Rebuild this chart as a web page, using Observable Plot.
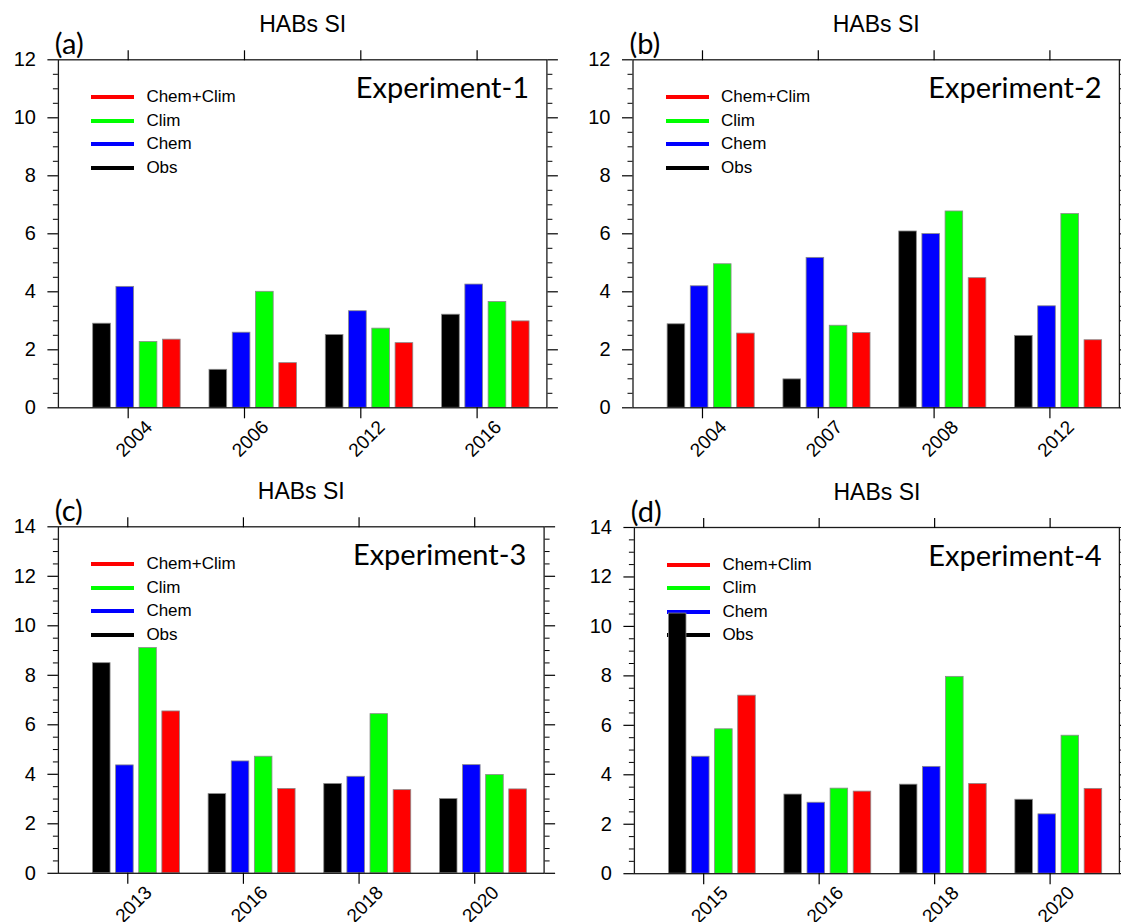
<!DOCTYPE html>
<html>
<head>
<meta charset="utf-8">
<script src="https://cdn.jsdelivr.net/npm/d3@7"></script>
<script src="https://cdn.jsdelivr.net/npm/@observablehq/plot@0.6"></script>
<style>
  html, body { margin: 0; padding: 0; background: #fff; }
  #root { position: relative; width: 1121px; height: 922px; overflow: hidden; background: #fff; }
  .panel { position: absolute; }
  .panel svg { overflow: visible; display: block; }
  .legend { position: absolute; z-index: 0; font-family: "Liberation Sans", Arial, Helvetica, sans-serif; font-size: 17px; color: #000; }
  .legend .sw { position: absolute; height: 4px; }
  .legend .lb { position: absolute; white-space: nowrap; line-height: 1; }
  .plotwrap { position: absolute; left: 0; top: 0; z-index: 1; }
</style>
</head>
<body>
<div id="root"></div>
<script>
// ---------------- data ----------------
const series = ["Obs", "Chem", "Clim", "Chem+Clim"];
const seriesColors = ["#000000", "#0000ff", "#00ff00", "#ff0000"];
const legendOrder = ["Chem+Clim", "Clim", "Chem", "Obs"];
const titleText = "HABs SI";
const panelLabels = ["(a)", "(b)", "(c)", "(d)"];
const experimentNames = ["Experiment-1", "Experiment-2", "Experiment-3", "Experiment-4"];
const yMaxes = [12, 12, 14, 14];

const years1 = ["2004", "2006", "2012", "2016"];
const obs1 = [2.90, 1.31, 2.51, 3.21];
const chem1 = [4.17, 2.59, 3.33, 4.25];
const clim1 = [2.27, 4.00, 2.73, 3.65];
const chemClim1 = [2.35, 1.54, 2.23, 2.98];

const years2 = ["2004", "2007", "2008", "2012"];
const obs2 = [2.88, 0.98, 6.08, 2.48];
const chem2 = [4.19, 5.17, 5.99, 3.50];
const clim2 = [4.95, 2.83, 6.77, 6.68];
const chemClim2 = [2.56, 2.58, 4.47, 2.33];

const years3 = ["2013", "2016", "2018", "2020"];
const obs3 = [8.49, 3.20, 3.61, 3.00];
const chem3 = [4.36, 4.52, 3.90, 4.37];
const clim3 = [9.10, 4.71, 6.43, 3.97];
const chemClim3 = [6.54, 3.41, 3.36, 3.39];

const years4 = ["2015", "2016", "2018", "2020"];
const obs4 = [10.52, 3.20, 3.60, 2.99];
const chem4 = [4.73, 2.87, 4.32, 2.40];
const clim4 = [5.84, 3.44, 7.96, 5.58];
const chemClim4 = [7.20, 3.32, 3.63, 3.43];

const panelYears = [years1, years2, years3, years4];
const panelValues = [
  [obs1, chem1, clim1, chemClim1],
  [obs2, chem2, clim2, chemClim2],
  [obs3, chem3, clim3, chemClim3],
  [obs4, chem4, clim4, chemClim4]
];

// ---------------- layout ----------------
const layout = [
  {left: 0,   top: 0,   w: 560, h: 460, mL: 57.9, mR: 13.6, mT: 59.3, mB: 52.7},
  {left: 560, top: 0,   w: 561, h: 460, mL: 72.5, mR: 2.1,  mT: 59.3, mB: 52.7},
  {left: 0,   top: 460, w: 560, h: 462, mL: 57.9, mR: 16.4, mT: 66.3, mB: 49.2},
  {left: 560, top: 460, w: 561, h: 462, mL: 73.9, mR: 2.1,  mT: 67.0, mB: 48.8}
];
const BAR_PITCH = 0.2, BAR_START = -0.225, BAR_W = 0.152;
const AXIS_FONT = "'Liberation Sans', Arial, Helvetica, sans-serif";
const LABEL_FONT = "Lato, 'Open Sans', sans-serif";

const root = document.getElementById("root");

panelYears.forEach((years, p) => {
  const L = layout[p];
  const ymax = yMaxes[p];
  const rows = [];
  years.forEach((yr, i) => {
    panelValues[p].forEach((vals, s) => rows.push({i, s, year: yr, series: series[s], value: vals[i]}));
  });
  const cats = years.map((y, i) => ({i, y}));
  const major = d3.range(0, ymax + 0.001, 2);
  const minor = d3.range(0, ymax + 0.001, 0.5).filter(v => v % 2 !== 0);

  const panel = document.createElement("div");
  panel.className = "panel";
  panel.style.left = L.left + "px";
  panel.style.top = L.top + "px";
  panel.style.width = L.w + "px";
  panel.style.height = L.h + "px";

  // legend (drawn beneath the plot so bars overlap it as in the original)
  const legend = document.createElement("div");
  legend.className = "legend";
  legend.style.left = "0px"; legend.style.top = "0px";
  legendOrder.forEach((name, k) => {
    const s = series.indexOf(name);
    const cy = L.mT + 38 + k * 23.4;
    const sw = document.createElement("div");
    sw.className = "sw";
    sw.style.left = (L.mL + 33.2) + "px";
    sw.style.width = "43px";
    sw.style.top = (cy - 2) + "px";
    sw.style.background = seriesColors[s];
    const lb = document.createElement("div");
    lb.className = "lb";
    lb.style.left = (L.mL + 88.5) + "px";
    lb.style.top = (cy - 9) + "px";
    lb.textContent = name;
    legend.appendChild(sw);
    legend.appendChild(lb);
  });
  panel.appendChild(legend);

  const chart = Plot.plot({
    width: L.w, height: L.h,
    marginLeft: L.mL, marginRight: L.mR, marginTop: L.mT, marginBottom: L.mB,
    x: {domain: [-0.6, 3.6], axis: null},
    y: {domain: [0, ymax], axis: null},
    style: {background: "none", overflow: "visible", fontFamily: AXIS_FONT, color: "#000"},
    marks: [
      Plot.rectY(rows, {
        x1: d => d.i + BAR_START + d.s * BAR_PITCH - BAR_W / 2,
        x2: d => d.i + BAR_START + d.s * BAR_PITCH + BAR_W / 2,
        y1: 0, y2: "value",
        fill: d => seriesColors[d.s],
        stroke: "#8a8a8a", strokeWidth: 0.8
      }),
      Plot.frame({stroke: "#1a1a1a", strokeWidth: 1.3}),
      Plot.axisY({anchor: "left", label: null, ticks: major, tickSize: 10.5, tickPadding: 12, fontSize: 20, tickFormat: d3.format("d"), strokeWidth: 1.2}),
      Plot.axisY({anchor: "left", label: null, ticks: minor, tickSize: 5, tickFormat: () => "", strokeWidth: 1}),
      Plot.axisY({anchor: "right", label: null, ticks: major, tickSize: 10.5, tickFormat: () => "", strokeWidth: 1.2}),
      Plot.axisY({anchor: "right", label: null, ticks: minor, tickSize: 5, tickFormat: () => "", strokeWidth: 1}),
      Plot.axisX({anchor: "top", label: null, ticks: [0, 1, 2, 3], tickSize: 10, tickFormat: () => "", strokeWidth: 1.2}),
      Plot.axisX({anchor: "bottom", label: null, ticks: [0, 1, 2, 3], tickSize: 11, tickFormat: () => "", strokeWidth: 1.2}),
      Plot.text(cats, {x: "i", text: "y", frameAnchor: "bottom", rotate: -45, dx: 6, dy: 31, fontSize: 19, textAnchor: "middle", lineAnchor: "middle", fontFamily: AXIS_FONT}),
      Plot.text([titleText], {text: d => d, frameAnchor: "top", dy: -27.5, fontSize: 23, lineAnchor: "bottom", fontFamily: AXIS_FONT}),
      Plot.text([panelLabels[p]], {text: d => d, frameAnchor: "top-left", dx: -3.6, dy: -6, fontSize: 29, textAnchor: "start", lineAnchor: "bottom", fontFamily: LABEL_FONT}),
      Plot.text([experimentNames[p]], {text: d => d, frameAnchor: "top-right", dx: -17.8, dy: 38, fontSize: 29, textAnchor: "end", lineAnchor: "bottom", fontFamily: LABEL_FONT})
    ]
  });
  const wrap = document.createElement("div");
  wrap.className = "plotwrap";
  wrap.appendChild(chart);
  panel.appendChild(wrap);
  root.appendChild(panel);
});
</script>
</body>
</html>
